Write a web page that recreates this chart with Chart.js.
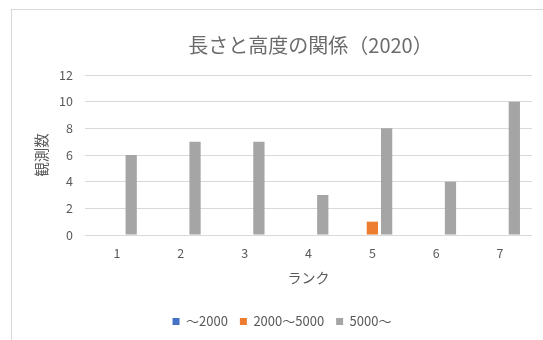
<!DOCTYPE html>
<html>
<head>
<meta charset="utf-8">
<script src="https://cdn.jsdelivr.net/npm/chart.js@4/dist/chart.umd.min.js"></script>
<style>
  html, body { margin: 0; padding: 0; background: #ffffff; overflow: hidden; }
  #wrap { position: relative; width: 543px; height: 340px; }
  #frame { position: absolute; left: 11px; top: 9px; width: 600px; height: 400px; border: 1px solid #d9d9d9; box-sizing: border-box; }
  #chart { position: absolute; left: 0; top: 0; }
</style>
</head>
<body>
<div id="wrap">
  <div id="frame"></div>
  <canvas id="chart" width="543" height="340"></canvas>
</div>
<script>
// ===== データ =====
const chartTitle = "長さと高度の関係（2020）";
const ranks = ["1", "2", "3", "4", "5", "6", "7"];
const seriesNames = ["～2000", "2000～5000", "5000～"];
const under2000 = [0, 0, 0, 0, 0, 0, 0];
const from2000to5000 = [0, 0, 0, 0, 1, 0, 0];
const over5000 = [6, 7, 7, 3, 8, 4, 10];

const textColor = "#595959";
const fontFamily = "'Noto Sans CJK JP', 'Noto Sans', sans-serif";

// タイトルはプロット領域の中央に描く
const centeredTitle = {
    id: "centeredTitle",
    afterDraw(chart) {
        const { ctx, chartArea } = chart;
        ctx.save();
        ctx.fillStyle = "#6b6b6b";
        ctx.font = "20px " + fontFamily;
        ctx.textAlign = "center";
        ctx.textBaseline = "middle";
        ctx.fillText(chartTitle, (chartArea.left + chartArea.right) / 2 + 2, 45);
        ctx.restore();
    }
};

const ctx = document.getElementById("chart").getContext("2d");
const chart = new Chart(ctx, {
    type: "bar",
    data: {
        labels: ranks,
        datasets: [
            { label: seriesNames[0], data: under2000, backgroundColor: "#4472C4" },
            { label: seriesNames[1], data: from2000to5000, backgroundColor: "#ED7D31" },
            { label: seriesNames[2], data: over5000, backgroundColor: "#A5A5A5" }
        ]
    },
    plugins: [centeredTitle],
    options: {
        responsive: false,
        animation: false,
        devicePixelRatio: 1,
        datasets: { bar: { categoryPercentage: 0.67, barPercentage: 0.79 } },
        layout: { padding: { left: 32, right: 11, top: 75, bottom: 2 } },
        plugins: {
            title: { display: false },
            legend: {
                position: "bottom",
                labels: {
                    color: textColor,
                    font: { family: fontFamily, size: 13 },
                    boxWidth: 7,
                    boxHeight: 7,
                    padding: 12
                }
            },
            tooltip: { enabled: false }
        },
        scales: {
            x: {
                grid: { display: false, drawTicks: false },
                border: { display: false },
                ticks: { color: textColor, font: { family: fontFamily, size: 12.5 }, padding: 11 },
                title: {
                    display: true,
                    text: "ランク",
                    color: textColor,
                    font: { family: fontFamily, size: 14 },
                    padding: { top: 8, bottom: 16.6 }
                },
                afterFit(scale) { scale.height = 68; }
            },
            y: {
                min: 0,
                max: 12,
                ticks: { stepSize: 2, color: textColor, font: { family: fontFamily, size: 12.5 }, padding: 12 },
                grid: { color: "#d9d9d9", lineWidth: 1, drawTicks: false },
                border: { display: false },
                title: {
                    display: true,
                    text: "観測数",
                    color: textColor,
                    font: { family: fontFamily, size: 14.5 },
                    padding: { top: 1, bottom: 6 }
                },
                afterFit(scale) { scale.width = 53; }
            }
        }
    }
});
</script>
</body>
</html>
